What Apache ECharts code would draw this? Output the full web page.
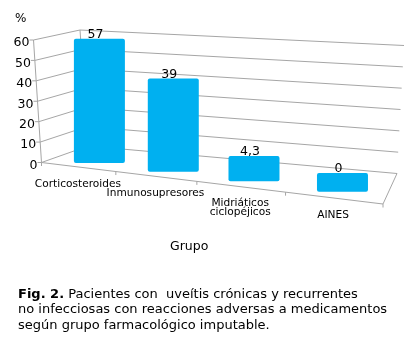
<!DOCTYPE html>
<html>
<head>
<meta charset="utf-8">
<script src="https://cdn.jsdelivr.net/npm/echarts@6/dist/echarts.min.js"></script>
<style>
html,body{margin:0;padding:0;background:#fff;}
#chart{width:411px;height:348px;}
</style>
</head>
<body>
<div id="chart"></div>
<script>
// ---- data ----
const categories = ['Corticosteroides', 'Inmunosupresores', 'Midriáticos\nciclopéjicos', 'AINES'];
const values = [57, 39, 4.3, 0];
const valueLabels = ['57', '39', '4,3', '0'];
const yTicks = [0, 10, 20, 30, 40, 50, 60];
const yTickLabels = ['0', '10', '20', '30', '40', '50', '60'];
const yAxisName = '%';
const xAxisName = 'Grupo';
const captionBold = 'Fig. 2.';
const captionLines = [
  'Pacientes con  uveítis crónicas y recurrentes',
  'no infecciosas con reacciones adversas a medicamentos',
  'según grupo farmacológico imputable.'
];

// ---- pseudo-3D layout (screen anchors of the box) ----
const FLOOR = {fl: [41.5, 162.5], fr: [383, 204], bl: [88, 146], br: [397, 173.5]};
const CEIL  = {fl: [33.5, 40],    fr: [389, 47],  bl: [80, 30],  br: [404, 45.5]};
const WARP = 1.198;
const FONT = 'DejaVu Sans';
const LINE = '#a6a6a6';
const BAR = '#00b0f0';

function warp(s) { return s / (s + (1 - s) * WARP); }
function lerp(a, b, t) { return [a[0] + (b[0] - a[0]) * t, a[1] + (b[1] - a[1]) * t]; }
function quad(q, w, d) { return lerp(lerp(q.fl, q.fr, w), lerp(q.bl, q.br, w), d); }
function P(s, vn, d) { const w = warp(s); return lerp(quad(FLOOR, w, d), quad(CEIL, w, d), vn); }

// normalise a data point through the grid's own scales
function norm(api, cs, cat, v) {
  const p = api.coord([cat, v]);
  return [(p[0] - cs.x) / cs.width, (cs.y + cs.height - p[1]) / cs.height];
}
function line(a, b, w) {
  return {type: 'line', shape: {x1: a[0], y1: a[1], x2: b[0], y2: b[1]},
    style: {stroke: LINE, lineWidth: w || 1}};
}

const chart = echarts.init(document.getElementById('chart'), null, {renderer: 'canvas'});

const option = {
  backgroundColor: '#fff',
  animation: false,
  title: {
    left: 13, top: 282,
    text: '{b|' + captionBold + '} ' + captionLines.join('\n'),
    textStyle: {
      fontFamily: FONT, fontSize: 13, fontWeight: 'normal', color: '#000', lineHeight: 15.3,
      rich: {b: {fontFamily: FONT, fontSize: 13, fontWeight: 'bold', color: '#000', lineHeight: 15.3}}
    }
  },
  graphic: [
    {type: 'text', left: 15, top: 13, style: {text: yAxisName, font: '12px "DejaVu Sans"', fill: '#000'}},
    {type: 'text', left: 170, top: 240, style: {text: xAxisName, font: '12.5px "DejaVu Sans"', fill: '#000'}}
  ],
  grid: {left: 50, top: 40, width: 300, height: 120, show: false},
  xAxis: {type: 'category', data: categories, show: false},
  yAxis: {type: 'value', min: 0, max: 60, interval: 10, show: false},
  series: [
    {
      // box frame
      type: 'custom', data: [0], z: 1, silent: true,
      renderItem: function (params, api) {
        const cs = params.coordSys;
        const band = api.size([1, 0])[0];
        const top = norm(api, cs, 0, 60)[1];
        const ch = [];
        ch.push(line(P(0, 0, 0), P(0, top, 0)));       // value axis
        ch.push(line(P(0, 0, 1), P(0, top, 1)));       // back-left edge
        ch.push(line(P(0, 0, 0), P(1, 0, 0)));         // floor front edge
        ch.push(line(P(1, 0, 0), P(1, 0, 1)));         // floor right edge
        for (let i = 0; i <= categories.length; i++) {
          const s = (api.coord([i, 0])[0] - band / 2 - cs.x) / cs.width;
          const p = P(s, 0, 0);
          ch.push(line(p, [p[0], p[1] + 3.5]));
        }
        return {type: 'group', children: ch};
      }
    },
    {
      // value gridlines, ticks and labels
      type: 'custom', z: 2, silent: true,
      data: yTicks.map((t, i) => [t, i]),
      renderItem: function (params, api) {
        const cs = params.coordSys;
        const vn = norm(api, cs, 0, api.value(0))[1];
        const f = P(0, vn, 0), b = P(0, vn, 1), r = P(1, vn, 1);
        return {type: 'group', children: [
          line(f, b), line(b, r), line([f[0] - 4, f[1]], f),
          {type: 'text', style: {text: yTickLabels[api.value(1)], x: f[0] - 4, y: f[1] + 3,
            align: 'right', verticalAlign: 'middle', font: '12.5px "DejaVu Sans"', fill: '#000'}}
        ]};
      }
    },
    {
      // bars
      type: 'custom', z: 3, silent: true,
      data: values.map((v, i) => [i, v]),
      renderItem: function (params, api) {
        const cs = params.coordSys;
        const i = api.value(0);
        const n = norm(api, cs, i, api.value(1));
        const s = n[0];
        const cx = P(s, 0, 0.5)[0];
        const top = P(s, n[1], 0.88)[1];
        const bottom = P(s, 0, 0.22)[1];
        const bw = 51;
        const front = P(s, 0, 0);
        return {type: 'group', children: [
          {type: 'rect', shape: {x: cx - bw / 2, y: top, width: bw, height: bottom - top, r: 2},
            style: {fill: BAR}},
          {type: 'text', style: {text: valueLabels[i], x: cx - 4, y: top - 4,
            align: 'center', verticalAlign: 'middle', font: '12.5px "DejaVu Sans"', fill: '#000'}},
          {type: 'text', style: {text: categories[i], x: front[0], y: front[1] + 12.5,
            align: 'center', verticalAlign: 'top', font: '10.6px "DejaVu Sans"', lineHeight: 9, fill: '#000'}}
        ]};
      }
    }
  ]
};
chart.setOption(option);
</script>
</body>
</html>
